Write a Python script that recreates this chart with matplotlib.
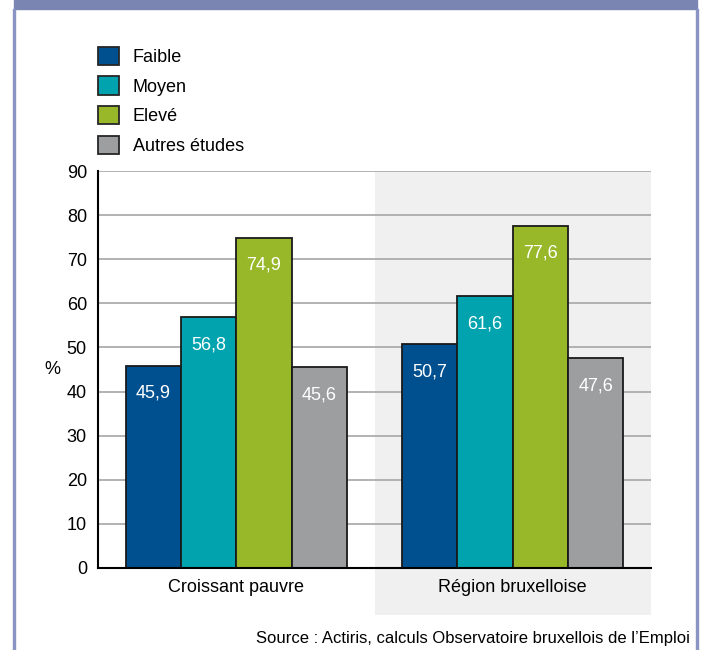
import matplotlib.pyplot as plt
from matplotlib.patches import Rectangle

plt.rcParams["font.family"] = ["Liberation Sans", "DejaVu Sans"]

zones = ["Croissant pauvre", "Région bruxelloise"]
niveaux = ["Faible", "Moyen", "Elevé", "Autres études"]
faible = [45.9, 50.7]
moyen = [56.8, 61.6]
eleve = [74.9, 77.6]
autres = [45.6, 47.6]
series = [faible, moyen, eleve, autres]
couleurs = ["#00508f", "#00a3ae", "#98b82a", "#9d9ea0"]

W, H = 703, 650
fig = plt.figure(figsize=(W / 100, H / 100), dpi=100)

# frame: header band and side borders
fig.patches.append(Rectangle((14 / W, 1 - 9 / H), 683 / W, 9 / H,
                             transform=fig.transFigure, color="#7b85b1", zorder=0))
fig.patches.append(Rectangle((13 / W, 0), 2 / W, 1 - 9 / H,
                             transform=fig.transFigure, color="#8a95c4", zorder=0))
fig.patches.append(Rectangle((696 / W, 0), 2 / W, 1 - 9 / H,
                             transform=fig.transFigure, color="#8a95c4", zorder=0))

ax = fig.add_axes([98 / W, (H - 568) / H, 553 / W, 397 / H])
ax.set_xlim(0, 2)
ax.set_ylim(0, 90)

# light band behind the regional group, running under the category label
ax.add_patch(Rectangle((1, -10.7), 1, 100.7, facecolor="#f0f0f0",
                       edgecolor="none", clip_on=False, zorder=0))

ax.set_yticks(range(0, 91, 10))
ax.yaxis.grid(True, color="#a6a6a6", linewidth=1.2, zorder=1)
ax.set_axisbelow(True)
ax.tick_params(axis="y", length=0, labelsize=13, pad=8)
ax.tick_params(axis="x", length=0, labelsize=13, pad=8)
ax.set_xticks([0.5, 1.5])
ax.set_xticklabels(zones)
for s in ["top", "right"]:
    ax.spines[s].set_visible(False)
ax.spines["left"].set_linewidth(1.5)
ax.spines["bottom"].set_linewidth(1.5)
ax.set_facecolor("none")

w = 0.2
for i, (vals, col, nom) in enumerate(zip(series, couleurs, niveaux)):
    xs = [g + 0.1 + w / 2 + i * w for g in range(len(zones))]
    ax.bar(xs, vals, width=w, color=col, edgecolor="#1a1a1a",
           linewidth=1.3, label=nom, zorder=2)
    for x, v in zip(xs, vals):
        ax.annotate(f"{v:.1f}".replace(".", ","), (x, v), xytext=(0, -20),
                    textcoords="offset points", ha="center", va="center",
                    color="white", fontsize=13, zorder=3)

fig.text(52 / W, 1 - 370 / H, "%", ha="center", va="center", fontsize=13)

leg = ax.legend(loc="upper left", bbox_to_anchor=(94 / W, 1 - 43 / H),
                bbox_transform=fig.transFigure, frameon=False, fontsize=13,
                handlelength=1.2, handleheight=1.2, labelspacing=0.57,
                handletextpad=0.75, borderaxespad=0, borderpad=0.2)
for p in leg.get_patches():
    p.set_edgecolor("#262626")
    p.set_linewidth(1.3)

fig.text(690 / W, 1 - 638 / H,
         "Source : Actiris, calculs Observatoire bruxellois de l\u2019Emploi",
         ha="right", va="center", fontsize=12)

fig.savefig("out.png", dpi=100)
